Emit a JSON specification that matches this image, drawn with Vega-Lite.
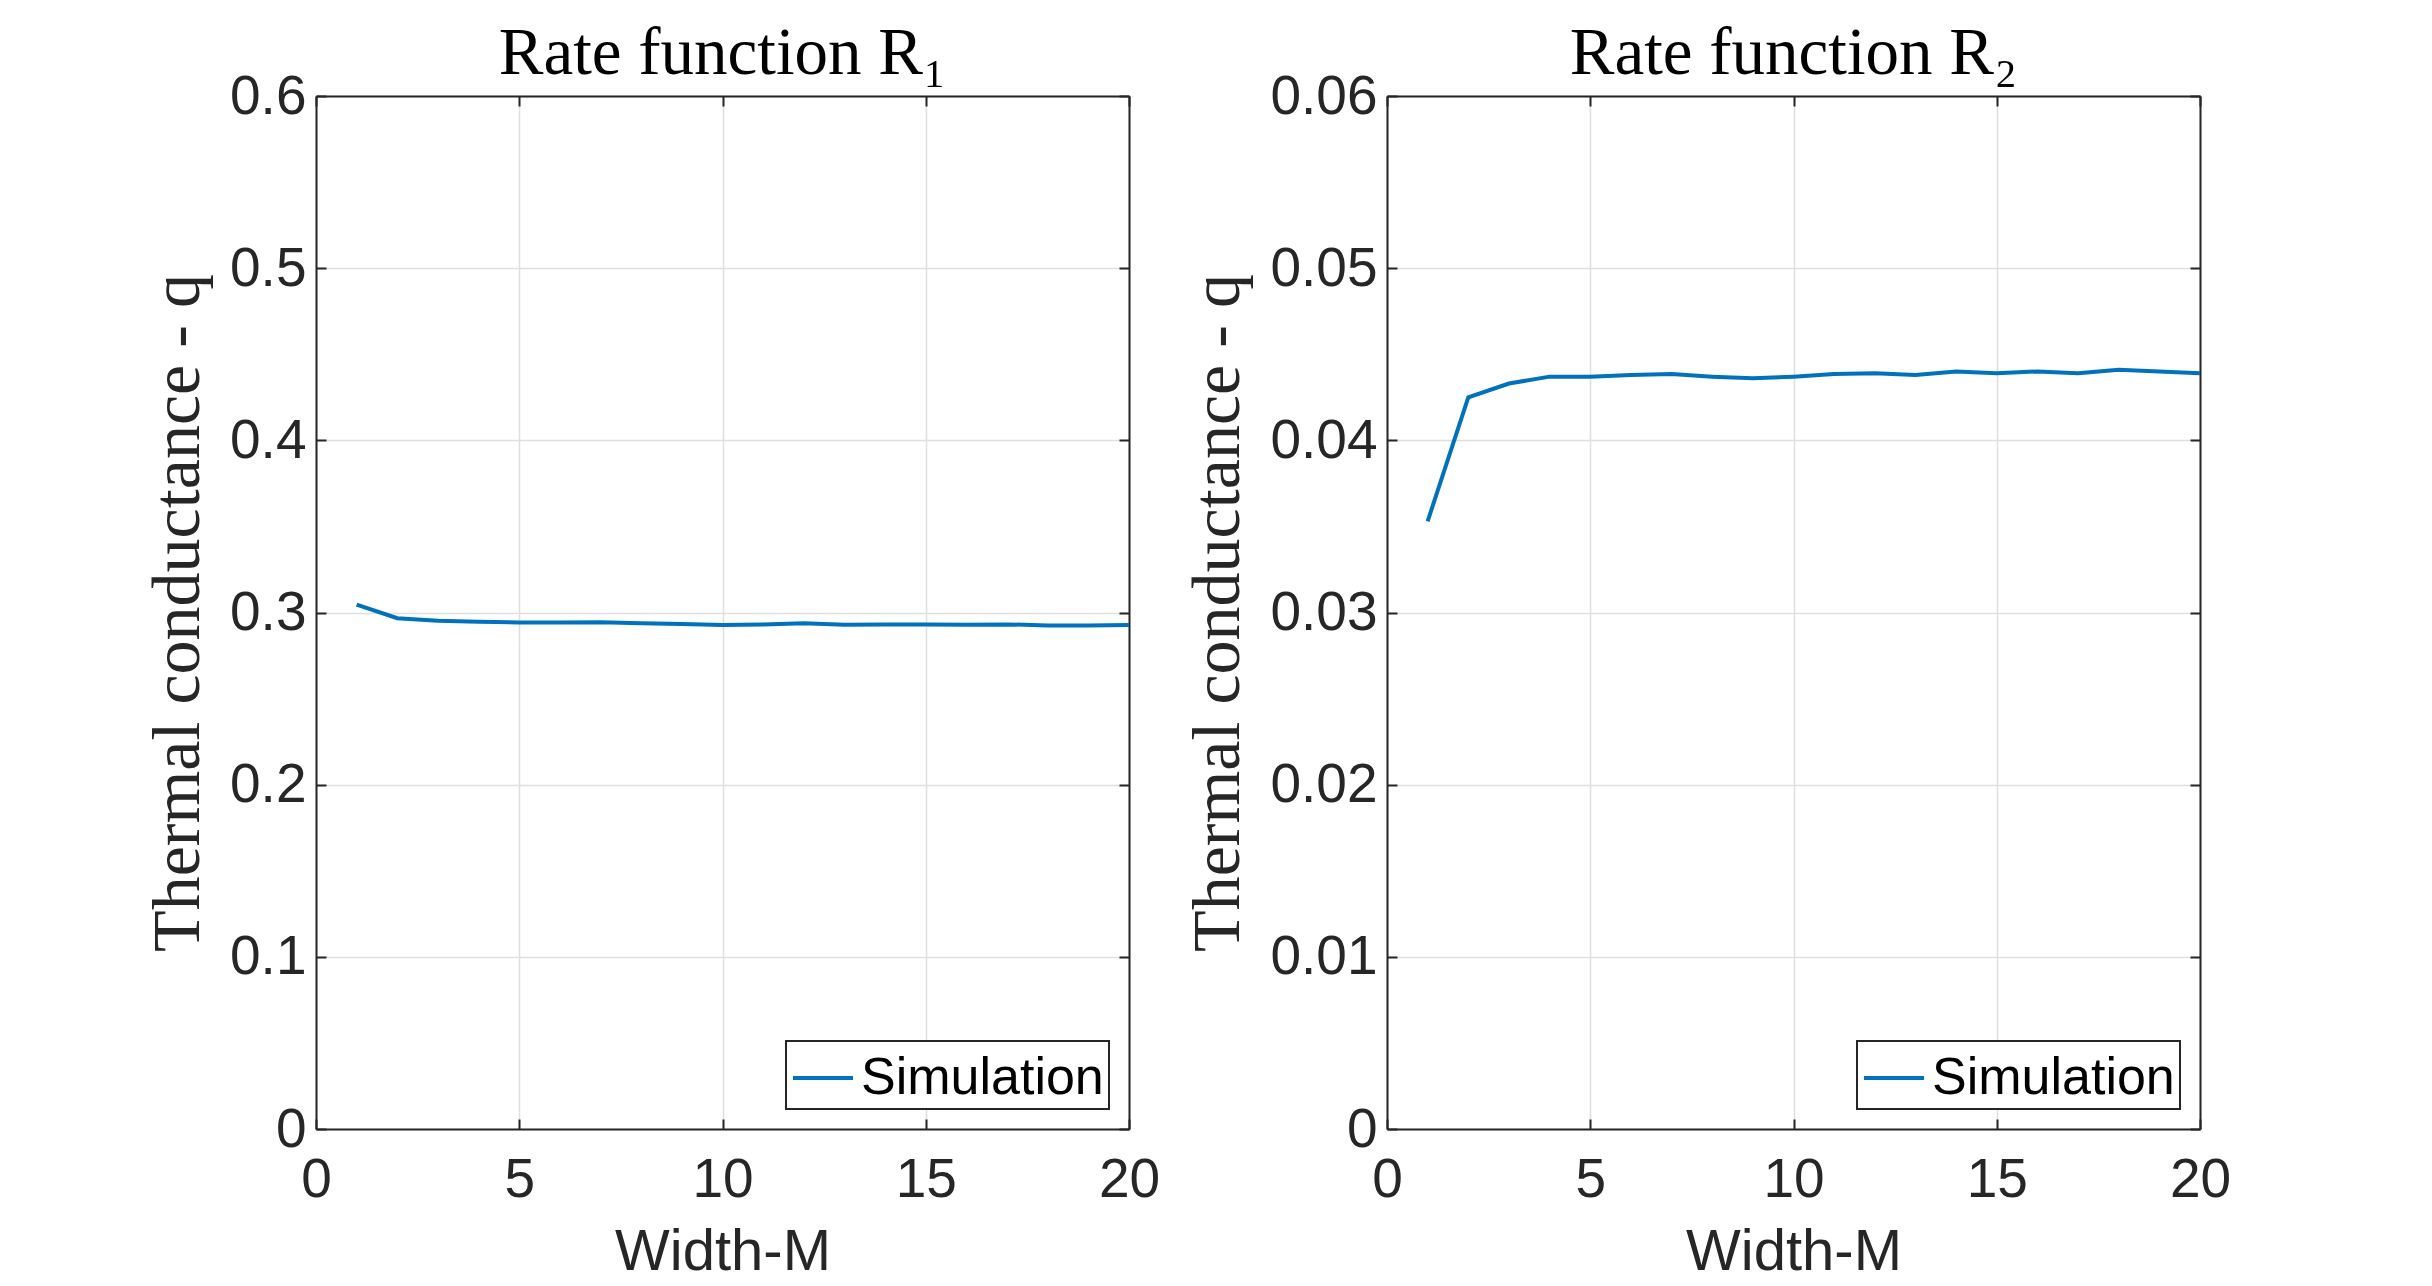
{
  "$schema": "https://vega.github.io/schema/vega-lite/v6.json",
  "description": "Thermal conductance q against width M for two rate functions, MATLAB style.",
  "background": "white",
  "padding": {"left": 144, "top": 20, "right": 0, "bottom": 0},
  "spacing": 24,
  "datasets": {
    "r1": [
      {"M": 1, "q": 0.3046}, {"M": 2, "q": 0.2967}, {"M": 3, "q": 0.2952}, {"M": 4, "q": 0.2946},
      {"M": 5, "q": 0.2942}, {"M": 6, "q": 0.2942}, {"M": 7, "q": 0.2944}, {"M": 8, "q": 0.2938},
      {"M": 9, "q": 0.2933}, {"M": 10, "q": 0.2927}, {"M": 11, "q": 0.2931}, {"M": 12, "q": 0.2937},
      {"M": 13, "q": 0.2929}, {"M": 14, "q": 0.2931}, {"M": 15, "q": 0.2931}, {"M": 16, "q": 0.2929},
      {"M": 17, "q": 0.2931}, {"M": 18, "q": 0.2925}, {"M": 19, "q": 0.2925}, {"M": 20, "q": 0.2927}
    ],
    "r2": [
      {"M": 1, "q": 0.0353}, {"M": 2, "q": 0.0425}, {"M": 3, "q": 0.0433}, {"M": 4, "q": 0.0437},
      {"M": 5, "q": 0.0437}, {"M": 6, "q": 0.0438}, {"M": 7, "q": 0.04385}, {"M": 8, "q": 0.0437},
      {"M": 9, "q": 0.0436}, {"M": 10, "q": 0.0437}, {"M": 11, "q": 0.04385}, {"M": 12, "q": 0.0439},
      {"M": 13, "q": 0.0438}, {"M": 14, "q": 0.044}, {"M": 15, "q": 0.0439}, {"M": 16, "q": 0.044},
      {"M": 17, "q": 0.0439}, {"M": 18, "q": 0.0441}, {"M": 19, "q": 0.044}, {"M": 20, "q": 0.0439}
    ]
  },
  "config": {
    "view": {"stroke": null},
    "axis": {
      "labelFont": "Liberation Sans", "labelFontSize": 55, "labelColor": "#262626", "labelFlush": false,
      "domainColor": "#262626", "domainWidth": 2,
      "tickColor": "#262626", "tickWidth": 2, "tickSize": -10,
      "gridColor": "#dfdfdf", "gridWidth": 1.5,
      "titleColor": "#262626", "titleFontWeight": "normal"
    },
    "title": {"font": "Liberation Serif", "fontSize": 67, "fontWeight": "normal", "color": "#000000", "anchor": "middle", "offset": -19},
    "legend": {
      "orient": "bottom-right", "offset": 20, "title": null,
      "strokeColor": "#262626", "strokeWidth": 2, "fillColor": "white", "padding": 5,
      "symbolType": "stroke", "symbolSize": 3600, "symbolStrokeWidth": 4,
      "labelFont": "Liberation Sans", "labelFontSize": 52, "labelColor": "#000000", "labelOffset": 6, "labelLimit": 0
    }
  },
  "resolve": {"scale": {"color": "independent"}, "legend": {"color": "independent"}},
  "hconcat": [
    {
      "width": 813,
      "height": 1033,
      "title": {"text": "Rate function R₁"},
      "data": {"name": "r1"},
      "layer": [
        {
          "mark": {"type": "line", "strokeWidth": 4},
          "encoding": {
            "x": {"field": "M", "type": "quantitative", "scale": {"domain": [0, 20], "nice": false},
                  "axis": {"values": [0, 5, 10, 15, 20], "title": "Width-M", "titleFont": "Liberation Sans", "titleFontSize": 58, "labelPadding": 34, "titlePadding": 16}},
            "y": {"field": "q", "type": "quantitative", "scale": {"domain": [0, 0.6], "nice": false},
                  "axis": {"values": [0, 0.1, 0.2, 0.3, 0.4, 0.5, 0.6], "format": "~g", "title": "Thermal conductance - q", "titleFont": "Liberation Serif", "titleFontSize": 68, "labelPadding": 20, "titlePadding": 17}},
            "color": {"datum": "Simulation", "type": "nominal", "scale": {"range": ["#0072BD"]}}
          }
        },
        {
          "mark": {"type": "line", "opacity": 0},
          "encoding": {
            "x": {"field": "M", "type": "quantitative", "axis": {"orient": "top", "values": [0, 5, 10, 15, 20], "labels": false, "grid": false, "title": null}},
            "y": {"field": "q", "type": "quantitative", "axis": {"orient": "right", "values": [0, 0.1, 0.2, 0.3, 0.4, 0.5, 0.6], "labels": false, "grid": false, "title": null}}
          }
        }
      ],
      "resolve": {"axis": {"x": "independent", "y": "independent"}}
    },
    {
      "width": 813,
      "height": 1033,
      "title": {"text": "Rate function R₂"},
      "data": {"name": "r2"},
      "layer": [
        {
          "mark": {"type": "line", "strokeWidth": 4},
          "encoding": {
            "x": {"field": "M", "type": "quantitative", "scale": {"domain": [0, 20], "nice": false},
                  "axis": {"values": [0, 5, 10, 15, 20], "title": "Width-M", "titleFont": "Liberation Sans", "titleFontSize": 58, "labelPadding": 34, "titlePadding": 16}},
            "y": {"field": "q", "type": "quantitative", "scale": {"domain": [0, 0.06], "nice": false},
                  "axis": {"values": [0, 0.01, 0.02, 0.03, 0.04, 0.05, 0.06], "format": "~g", "title": "Thermal conductance - q", "titleFont": "Liberation Serif", "titleFontSize": 68, "labelPadding": 20, "titlePadding": 17}},
            "color": {"datum": "Simulation", "type": "nominal", "scale": {"range": ["#0072BD"]}}
          }
        },
        {
          "mark": {"type": "line", "opacity": 0},
          "encoding": {
            "x": {"field": "M", "type": "quantitative", "axis": {"orient": "top", "values": [0, 5, 10, 15, 20], "labels": false, "grid": false, "title": null}},
            "y": {"field": "q", "type": "quantitative", "axis": {"orient": "right", "values": [0, 0.01, 0.02, 0.03, 0.04, 0.05, 0.06], "labels": false, "grid": false, "title": null}}
          }
        }
      ],
      "resolve": {"axis": {"x": "independent", "y": "independent"}}
    }
  ]
}
